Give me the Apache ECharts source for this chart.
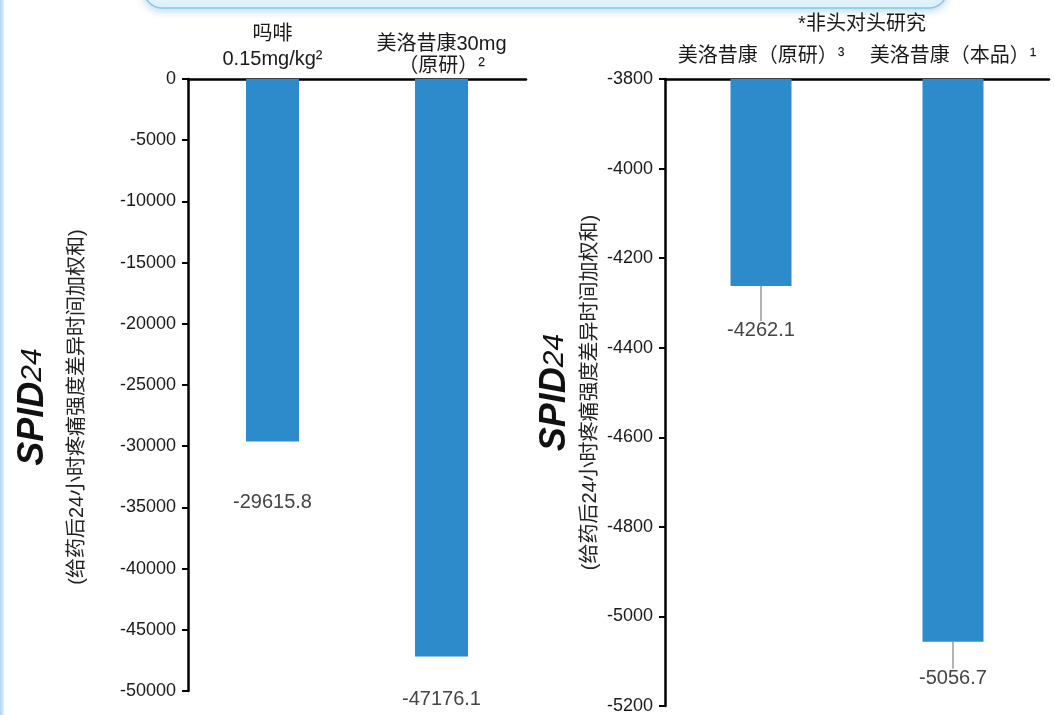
<!DOCTYPE html>
<html>
<head>
<meta charset="utf-8">
<script src="https://cdn.jsdelivr.net/npm/echarts@6/dist/echarts.min.js"></script>
<style>
  html, body { margin: 0; padding: 0; background: #ffffff; }
  #chart { width: 1054px; height: 715px; }
</style>
</head>
<body>
<div id="chart"></div>
<script>
// Left panel: morphine vs meloxicam 30 mg (reference product)
const categoriesLeft = ['吗啡\n0.15mg/kg²', '美洛昔康30mg\n（原研）²'];
const valuesLeft = [-29615.8, -47176.1];

// Right panel: meloxicam reference vs this product (not head-to-head)
const categoriesRight = ['美洛昔康（原研）³', '美洛昔康（本品）¹'];
const valuesRight = [-4262.1, -5056.7];

const axisRangeLeft = { min: -50000, max: 0, interval: 5000 };
const axisRangeRight = { min: -5200, max: -3800, interval: 200 };

const noteText = '*非头对头研究';
const yNameMain = 'SPID';
const yNameSub = '24';
const yNameDesc = '(给药后24小时疼痛强度差异时间加权和)';

// label styling per bar
const leftLabelDistance = [51, 33];
const rightLabelShift = [28, 20];
const leftCatLineHeight = [25, 22];
const leftCatPadding = [[0, 0, 5, 0], [0, 0, 0, 0]];

const BAR_COLOR = '#2e8bcb';
const LATIN = '"Liberation Sans", Arial, "Noto Sans CJK SC", sans-serif';
const CJK = '"Liberation Sans", "Noto Sans CJK SC", sans-serif';

function axisName(lh1, lh2, shift) {
  return {
    name: '{a|' + yNameMain + '}{b|' + yNameSub + '}\n{c|' + yNameDesc + '}',
    nameLocation: 'middle',
    nameRotate: 90,
    nameTextStyle: {
      padding: [0, shift, 0, 0],
      rich: {
        a: { fontSize: 36, fontWeight: 'bold', fontStyle: 'italic', color: '#111', fontFamily: LATIN, lineHeight: lh1 },
        b: { fontSize: 30, fontStyle: 'italic', color: '#111', fontFamily: LATIN, lineHeight: lh1 },
        c: { fontSize: 20, color: '#222', fontFamily: CJK, lineHeight: lh2 }
      }
    }
  };
}

function valueAxis(range, gridIndex, gap, lh1, lh2, shift) {
  return Object.assign({
    type: 'value',
    gridIndex: gridIndex,
    min: range.min,
    max: range.max,
    interval: range.interval,
    nameGap: gap,
    axisLine: { show: true, lineStyle: { color: '#000', width: 2.5 } },
    axisTick: { show: true, length: 6, lineStyle: { color: '#000', width: 2 } },
    axisLabel: {
      fontSize: 18,
      color: '#1a1a1a',
      margin: 12,
      fontFamily: LATIN,
      formatter: v => String(v)
    },
    splitLine: { show: false }
  }, axisName(lh1, lh2, shift));
}

const chart = echarts.init(document.getElementById('chart'), null, { renderer: 'canvas' });

chart.setOption({
  backgroundColor: '#ffffff',
  animation: false,
  title: {
    text: noteText,
    left: 857,
    top: 9,
    textAlign: 'center',
    textStyle: { fontSize: 20, fontWeight: 'normal', color: '#1a1a1a', fontFamily: CJK }
  },
  graphic: [
    {
      type: 'rect',
      shape: { x: 0, y: 0, width: 4, height: 715 },
      style: {
        fill: new echarts.graphic.LinearGradient(0, 0, 1, 0, [
          { offset: 0, color: '#a9d4ef' },
          { offset: 1, color: '#e4f2fb' }
        ])
      },
      silent: true
    },
    {
      type: 'rect',
      shape: { x: 144, y: -40, width: 803, height: 48, r: 18 },
      style: {
        fill: '#e3f3fc',
        stroke: '#86c8ec',
        lineWidth: 1.5,
        shadowBlur: 8,
        shadowOffsetY: 2,
        shadowColor: 'rgba(110,170,210,0.45)'
      },
      silent: true
    }
  ],
  grid: [
    { left: 188, top: 79, width: 338, height: 612 },
    { left: 665, top: 79, width: 384, height: 628 }
  ],
  xAxis: [
    {
      type: 'category',
      gridIndex: 0,
      position: 'top',
      data: categoriesLeft.map((c, i) => ({
        value: c,
        textStyle: { lineHeight: leftCatLineHeight[i], padding: leftCatPadding[i] }
      })),
      axisLine: { lineStyle: { color: '#000', width: 2.5 } },
      axisTick: { show: false },
      axisLabel: { interval: 0, margin: 2, fontSize: 20, color: '#1a1a1a', fontFamily: CJK }
    },
    {
      type: 'category',
      gridIndex: 1,
      position: 'top',
      data: categoriesRight,
      axisLine: { lineStyle: { color: '#000', width: 2.5 } },
      axisTick: { show: false },
      axisLabel: { interval: 0, margin: 12, fontSize: 20, color: '#1a1a1a', fontFamily: CJK, lineHeight: 22 }
    }
  ],
  yAxis: [
    valueAxis(axisRangeLeft, 0, 98, 62, 26, 44),
    valueAxis(axisRangeRight, 1, 63, 46, 24, 0)
  ],
  series: [
    {
      type: 'bar',
      xAxisIndex: 0,
      yAxisIndex: 0,
      barWidth: 53,
      itemStyle: { color: BAR_COLOR },
      data: valuesLeft.map((v, i) => ({
        value: v,
        label: { distance: leftLabelDistance[i] }
      })),
      label: {
        show: true,
        position: 'bottom',
        fontSize: 20,
        color: '#454545',
        fontFamily: LATIN
      }
    },
    {
      type: 'bar',
      xAxisIndex: 1,
      yAxisIndex: 1,
      barWidth: 61,
      clip: true,
      itemStyle: { color: BAR_COLOR },
      data: valuesRight,
      label: {
        show: true,
        position: 'bottom',
        distance: 0,
        padding: [3, 0, 0, 0],
        fontSize: 20,
        color: '#454545',
        fontFamily: LATIN
      },
      labelLine: { show: true, lineStyle: { color: '#9a9a9a', width: 1.5 } },
      labelLayout: function (params) {
        return { dy: rightLabelShift[params.dataIndex] + 4 };
      }
    }
  ]
});
</script>
</body>
</html>
